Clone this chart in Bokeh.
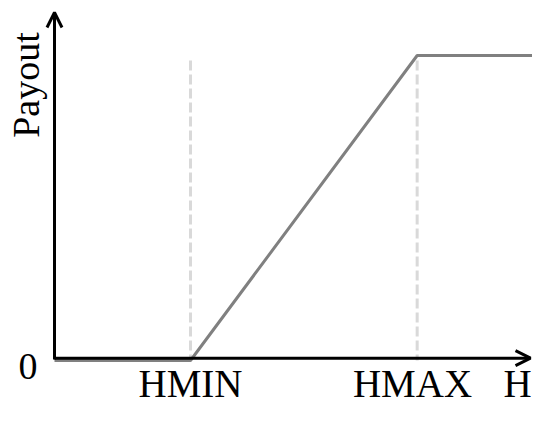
from bokeh.plotting import figure
from bokeh.models import Range1d, Arrow, OpenHead, ColumnDataSource
from bokeh.core.properties import value
from bokeh.embed import file_html
from bokeh.resources import INLINE
import math

# ---- data ----
HMIN = 3.0
HMAX = 8.0
H_END = 10.9
payout_h = [0.0, HMIN, HMAX, H_END]
payout_v = [0.0, 0.0, 1.0, 1.0]
guide_x = [HMIN, HMAX]
guide_top = 0.9836
x_tick_labels = ["HMIN", "HMAX", "H"]
x_tick_pos = [HMIN, HMAX - 0.103, 10.213]
y_tick_labels = ["0"]
y_label = "Payout"

FONT = value("Liberation Serif")

p = figure(width=532, height=405, output_backend="svg", toolbar_location=None,
           x_range=Range1d(-1.1912, 10.5441), y_range=Range1d(-0.14754, 1.1803),
           x_axis_type=None, y_axis_type=None, min_border=0,
           outline_line_color=None)
p.grid.visible = False

# dashed guides
for gx in guide_x:
    p.line([gx, gx], [guide_top, 0.0], line_color="#d9d9d9", line_width=3,
           line_dash="10 4")

# payout line
p.line(payout_h, payout_v, line_color="#808080", line_width=3)

# axes with arrows
ax_off = 0.0075
p.add_layout(Arrow(end=OpenHead(size=15, line_width=3, line_color="black"),
                   x_start=0, y_start=ax_off, x_end=10.5, y_end=ax_off,
                   line_width=3, line_color="black"))
p.add_layout(Arrow(end=OpenHead(size=15, line_width=3, line_color="black"),
                   x_start=0, y_start=ax_off - 0.004, x_end=0, y_end=1.141,
                   line_width=3, line_color="black"))

# labels
src = ColumnDataSource(dict(x=x_tick_pos, y=[-0.0754] * 3, t=x_tick_labels))
p.text(x="x", y="y", text="t", source=src, text_font=FONT, text_font_size="39px",
       text_align="center", text_baseline="alphabetic", text_color="black")
p.text(x=[-0.5846], y=[-0.0197], text=y_tick_labels, text_font=FONT,
       text_font_size="38px", text_align="center", text_baseline="alphabetic",
       text_color="black")
p.text(x=[-0.6397], y=[0.9033], text=[y_label], angle=math.pi / 2,
       text_font=FONT, text_font_size="38px", text_align="center",
       text_baseline="alphabetic", text_color="black")

open("out.html", "w").write(file_html(p, INLINE))
